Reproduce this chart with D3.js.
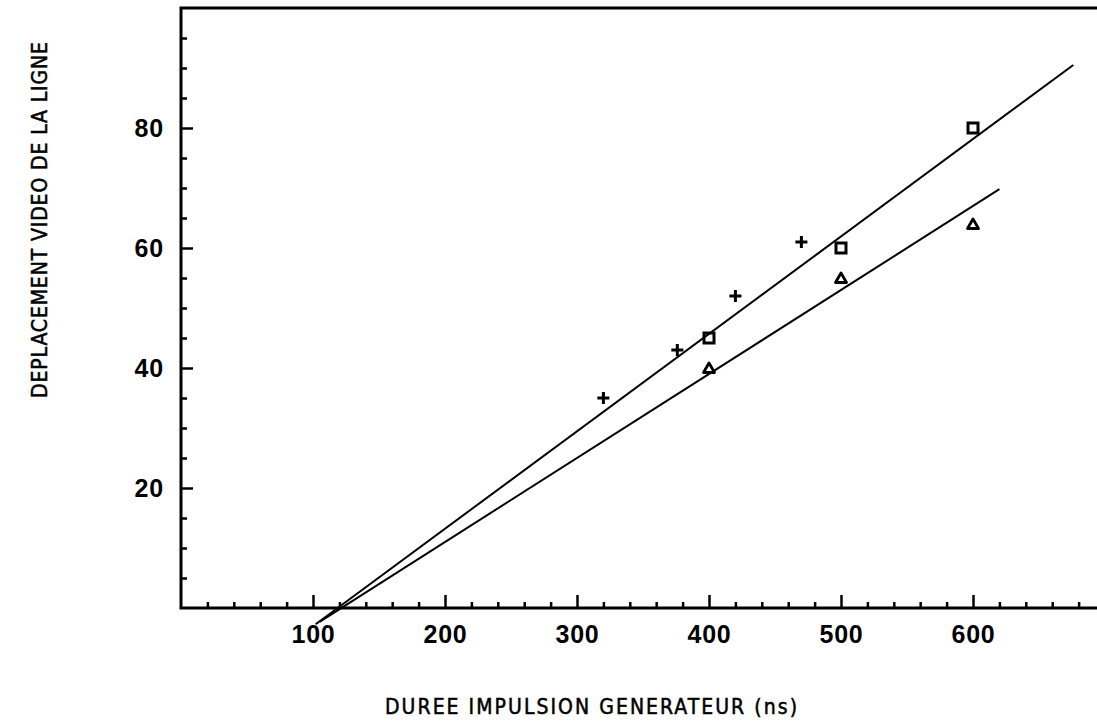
<!DOCTYPE html>
<html>
<head>
<meta charset="utf-8">
<script src="https://cdn.jsdelivr.net/npm/d3@7"></script>
<style>
  html, body { margin: 0; padding: 0; background: #fff; }
  svg { display: block; }
</style>
</head>
<body>
<script>
// Measured points: pulse duration (ns) vs line video displacement
const crossX = [320, 376, 420, 470];
const crossY = [35, 43, 52, 61];
const squareX = [400, 500, 600];
const squareY = [45, 60, 80];
const triangleX = [400, 500, 600];
const triangleY = [40, 55, 64];

// Fitted straight lines (start and end of each segment)
const fitUpperX = [102, 676];
const fitUpperY = [-2.7, 90.5];
const fitLowerX = [105, 620];
const fitLowerY = [-2.3, 69.8];

// Axis ticks
const xMajorTicks = [100, 200, 300, 400, 500, 600];
const xMinorTicks = d3.range(20, 700, 20).filter(v => v % 100 !== 0);
const yMajorTicks = [20, 40, 60, 80];
const yMinorTicks = d3.range(5, 100, 5).filter(v => v % 20 !== 0);

const xTitle = "DUREE IMPULSION GENERATEUR (ns)";
const yTitle = "DEPLACEMENT VIDEO DE LA LIGNE";

const W = 1097, H = 727;
const svg = d3.select("body").append("svg").attr("width", W).attr("height", H);

const x = d3.scaleLinear().domain([0, 700]).range([181, 1105]);
const y = d3.scaleLinear().domain([0, 100]).range([608, 8]);

// Frame
svg.append("rect")
  .attr("x", x(0)).attr("y", y(100))
  .attr("width", x(700) - x(0)).attr("height", y(0) - y(100))
  .attr("fill", "none").attr("stroke", "#000").attr("stroke-width", 3);

const labelFont = "'Liberation Sans', Arial, sans-serif";

// X axis: minor and major ticks pointing inward
const gxMinor = svg.append("g").attr("transform", `translate(0,${y(0)})`)
  .call(d3.axisBottom(x).tickValues(xMinorTicks).tickSize(-6).tickFormat(""));
const gxMajor = svg.append("g").attr("transform", `translate(0,${y(0)})`)
  .call(d3.axisBottom(x).tickValues(xMajorTicks).tickSize(-13).tickPadding(17).tickFormat(d3.format("d")));

// Y axis
const gyMinor = svg.append("g").attr("transform", `translate(${x(0)},0)`)
  .call(d3.axisLeft(y).tickValues(yMinorTicks).tickSize(-6).tickFormat(""));
const gyMajor = svg.append("g").attr("transform", `translate(${x(0)},0)`)
  .call(d3.axisLeft(y).tickValues(yMajorTicks).tickSize(-12).tickPadding(17).tickFormat(d3.format("d")));

[gxMinor, gxMajor, gyMinor, gyMajor].forEach(g => {
  g.select(".domain").remove();
  g.selectAll(".tick line").attr("stroke", "#000").attr("stroke-width", 2.5);
  g.selectAll("text")
    .attr("fill", "#000")
    .style("font-family", labelFont)
    .style("font-weight", "bold")
    .style("font-size", "25px")
    .style("letter-spacing", "0.8px");
});

// Fitted lines
const line = d3.line().x(d => x(d[0])).y(d => y(d[1]));
[[fitUpperX, fitUpperY], [fitLowerX, fitLowerY]].forEach(([xs, ys]) => {
  svg.append("path")
    .attr("d", line(xs.map((v, i) => [v, ys[i]])))
    .attr("fill", "none").attr("stroke", "#000").attr("stroke-width", 2);
});

// Markers
svg.append("g").selectAll("path")
  .data(crossX.map((v, i) => [v, crossY[i]]))
  .join("path")
  .attr("transform", d => `translate(${x(d[0])},${y(d[1])})`)
  .attr("d", "M-6,0H6M0,-6V6")
  .attr("stroke", "#000").attr("stroke-width", 3).attr("fill", "none");

svg.append("g").selectAll("rect")
  .data(squareX.map((v, i) => [v, squareY[i]]))
  .join("rect")
  .attr("x", d => x(d[0]) - 5).attr("y", d => y(d[1]) - 5)
  .attr("width", 10).attr("height", 10)
  .attr("stroke", "#000").attr("stroke-width", 3).attr("fill", "none");

svg.append("g").selectAll("path")
  .data(triangleX.map((v, i) => [v, triangleY[i]]))
  .join("path")
  .attr("transform", d => `translate(${x(d[0])},${y(d[1])})`)
  .attr("d", "M0,-5L5.5,4.5L-5.5,4.5Z")
  .attr("stroke", "#000").attr("stroke-width", 2.8).attr("stroke-linejoin", "round").attr("fill", "none");

// Axis titles: narrow plotter-style lettering with open spacing
const titleFont = "'DejaVu Sans Condensed', 'DejaVu Sans', sans-serif";
svg.append("text")
  .attr("x", 385).attr("y", 714)
  .attr("textLength", 412).attr("lengthAdjust", "spacing")
  .style("font-family", titleFont).style("font-size", "21px")
  .attr("fill", "#000").attr("stroke", "#000").attr("stroke-width", 0.5)
  .text(xTitle);

svg.append("text")
  .attr("transform", "translate(47,398) rotate(-90)")
  .attr("textLength", 356).attr("lengthAdjust", "spacing")
  .style("font-family", titleFont).style("font-size", "21px")
  .attr("fill", "#000").attr("stroke", "#000").attr("stroke-width", 0.5)
  .text(yTitle);
</script>
</body>
</html>
